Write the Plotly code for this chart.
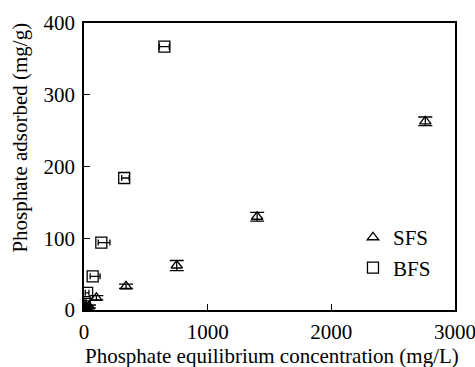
import plotly.graph_objects as go

# SFS series: equilibrium concentration (mg/L), adsorbed amount (mg/g), error in q
sfs_ce = [2, 8, 20, 40, 100, 340, 750, 1400, 2760]
sfs_qe = [0.5, 1.5, 3, 5, 17, 33, 62, 130, 263]
sfs_err = [1, 1, 1.5, 2, 3, 3, 7, 6, 6]

# BFS series: equilibrium concentration (mg/L), adsorbed amount (mg/g), error in Ce
bfs_ce = [1, 2, 3, 5, 25, 70, 140, 325, 650]
bfs_qe = [0.5, 2, 5, 11, 24, 47, 94, 184, 367]
bfs_err_plus = [5, 8, 10, 12, 15, 60, 70, 40, 40]
bfs_err_minus = [1, 2, 3, 5, 15, 20, 25, 20, 40]

x_ticks = [0, 1000, 2000, 3000]
y_ticks = [0, 100, 200, 300, 400]

FONT = "Liberation Serif"
FS = 21

fig = go.Figure()
fig.add_trace(go.Scatter(
    x=sfs_ce, y=sfs_qe, mode="markers", name="SFS",
    marker=dict(symbol="triangle-up-open", size=10, color="black", line=dict(width=1.3)),
    error_y=dict(type="data", array=sfs_err, color="black", thickness=1.3, width=7),
))
fig.add_trace(go.Scatter(
    x=bfs_ce, y=bfs_qe, mode="markers", name="BFS",
    marker=dict(symbol="square-open", size=11, color="black", line=dict(width=1.3)),
    error_x=dict(type="data", array=bfs_err_plus, arrayminus=bfs_err_minus,
                 color="black", thickness=1.3, width=3),
))

axis_common = dict(
    showline=True, linecolor="black", linewidth=1.5, mirror=True,
    ticks="inside", ticklen=6, tickcolor="black", tickwidth=1.2,
    showgrid=False, zeroline=False, ticklabeloverflow="allow", automargin=False,
    tickfont=dict(family=FONT, size=FS, color="black"),
)

fig.update_layout(
    width=475, height=367,
    margin=dict(l=84, r=20, t=23, b=57, autoexpand=False),
    paper_bgcolor="white", plot_bgcolor="white",
    font=dict(family=FONT, color="black"),
    showlegend=True,
    legend=dict(x=0.725, y=0.2, xanchor="left", yanchor="middle",
                bgcolor="rgba(0,0,0,0)", font=dict(family=FONT, size=FS),
                itemwidth=30),
    xaxis=dict(range=[0, 3000], tickvals=x_ticks, ticklabelstandoff=2, **axis_common),
    yaxis=dict(range=[0, 400], tickvals=y_ticks, ticklabelstandoff=3, **axis_common),
    annotations=[
        dict(text="Phosphate equilibrium concentration (mg/L)", xref="paper", yref="paper",
             x=0.507, y=-0.162, xanchor="center", yanchor="middle", showarrow=False,
             font=dict(family=FONT, size=FS)),
        dict(text="Phosphate adsorbed (mg/g)", xref="paper", yref="paper",
             x=-0.173, y=0.6, xanchor="center", yanchor="middle", textangle=-90,
             showarrow=False, font=dict(family=FONT, size=FS)),
    ],
)

fig.write_html("out.html")
